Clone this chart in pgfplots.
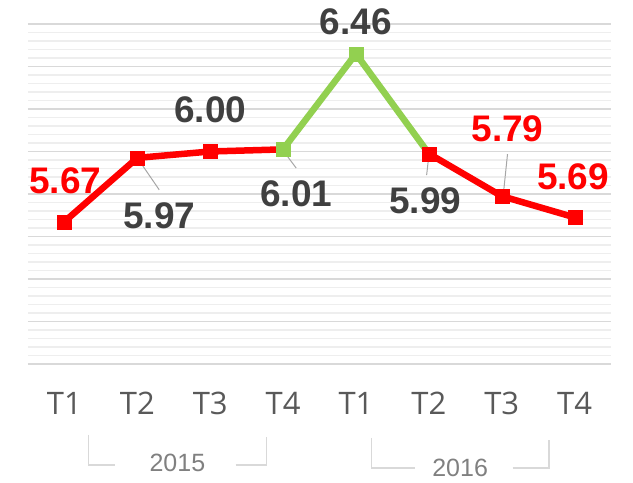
\documentclass[border=0pt]{standalone}
\usepackage{pgfplots}
\pgfplotsset{compat=1.18}
\usepackage{fontspec}
\setmainfont{Liberation Sans}
\newfontfamily\tickfont{Open Sans}
\definecolor{myred}{HTML}{FF0000}
\definecolor{mygreen}{HTML}{92D050}
\definecolor{lblgray}{HTML}{404040}
\definecolor{tickgray}{HTML}{595959}
\definecolor{yeargray}{HTML}{808080}
\definecolor{majgrid}{HTML}{D9D9D9}
\definecolor{mingrid}{HTML}{EEEEEE}
\definecolor{leader}{HTML}{A6A6A6}
\begin{document}
\begin{tikzpicture}
\begin{axis}[
 at={(0,0)}, anchor=south west, scale only axis, width=583bp, height=340bp,
 xmin=-0.5, xmax=7.5, ymin=5, ymax=6.6,
 xtick={0,1,2,3,4,5,6,7}, xticklabels={T1,T2,T3,T4,T1,T2,T3,T4},
 ytick={5,5.2,5.4,5.6,5.8,6,6.2,6.4,6.6}, yticklabels={}, minor y tick num=4,
 ymajorgrids, yminorgrids,
 major grid style={majgrid, line width=1.6bp},
 minor grid style={mingrid, line width=1.2bp},
 axis line style={draw=none}, tick style={draw=none},
 xticklabel style={font=\tickfont\fontsize{31bp}{31bp}\selectfont, text=tickgray, anchor=center, yshift=-39bp},
 clip=false,
]
\addplot[myred, line width=6.5bp, mark=square*, mark indices={1,2,3}, mark size=7bp, mark options={line width=0.1bp}] coordinates {(0,5.67)(1,5.97)(2,6.00)(3,6.01)};
\addplot[mygreen, line width=6.5bp, mark=square*, mark indices={1,2}, mark size=7bp, mark options={line width=0.1bp}] coordinates {(3,6.01)(4,6.46)(5,5.99)};
\addplot[myred, line width=6.5bp, mark=square*, mark size=7bp, mark options={line width=0.1bp}] coordinates {(5,5.99)(6,5.79)(7,5.69)};
% leader lines
\draw[leader, line width=1bp] (axis cs:1.01,5.965) -- (axis cs:1.30,5.82);
\draw[leader, line width=1bp] (axis cs:3.0,6.005) -- (axis cs:3.18,5.922);
\draw[leader, line width=1bp] (axis cs:5.0,5.98) -- (axis cs:4.97,5.889);
\draw[leader, line width=1bp] (axis cs:6.02,5.79) -- (axis cs:6.08,5.988);
% data labels
\begin{scope}[every node/.style={font=\bfseries\fontsize{37bp}{37bp}\selectfont, inner sep=0pt, anchor=center}]
\node[text=myred] at (axis cs:0.01,5.861) {5.67};
\node[text=lblgray] at (axis cs:1.30,5.696) {5.97};
\node[text=lblgray] at (axis cs:2.0,6.195) {6.00};
\node[text=lblgray] at (axis cs:3.18,5.80) {6.01};
\node[text=lblgray] at (axis cs:4.0,6.61) {6.46};
\node[text=lblgray] at (axis cs:4.95,5.767) {5.99};
\node[text=myred] at (axis cs:6.08,6.106) {5.79};
\node[text=myred] at (axis cs:6.98,5.88) {5.69};
\end{scope}
% year brackets
\draw[majgrid, line width=1.2bp] (axis cs:0.33,4.666) -- (axis cs:0.33,4.525) -- (axis cs:0.70,4.525);
\draw[majgrid, line width=1.2bp] (axis cs:2.35,4.525) -- (axis cs:2.77,4.525) -- (axis cs:2.77,4.657);
\node[text=yeargray, font=\fontsize{25bp}{25bp}\selectfont, inner sep=0pt, anchor=center] at (axis cs:1.55,4.534) {2015};
\draw[majgrid, line width=1.2bp] (axis cs:4.21,4.652) -- (axis cs:4.21,4.511) -- (axis cs:4.81,4.511);
\draw[majgrid, line width=1.2bp] (axis cs:6.15,4.511) -- (axis cs:6.65,4.511) -- (axis cs:6.65,4.643);
\node[text=yeargray, font=\fontsize{25bp}{25bp}\selectfont, inner sep=0pt, anchor=center] at (axis cs:5.43,4.510) {2016};
\end{axis}
\pgfresetboundingbox
\path (-28bp,-119bp) rectangle (605bp,364bp);
\end{tikzpicture}
\end{document}
